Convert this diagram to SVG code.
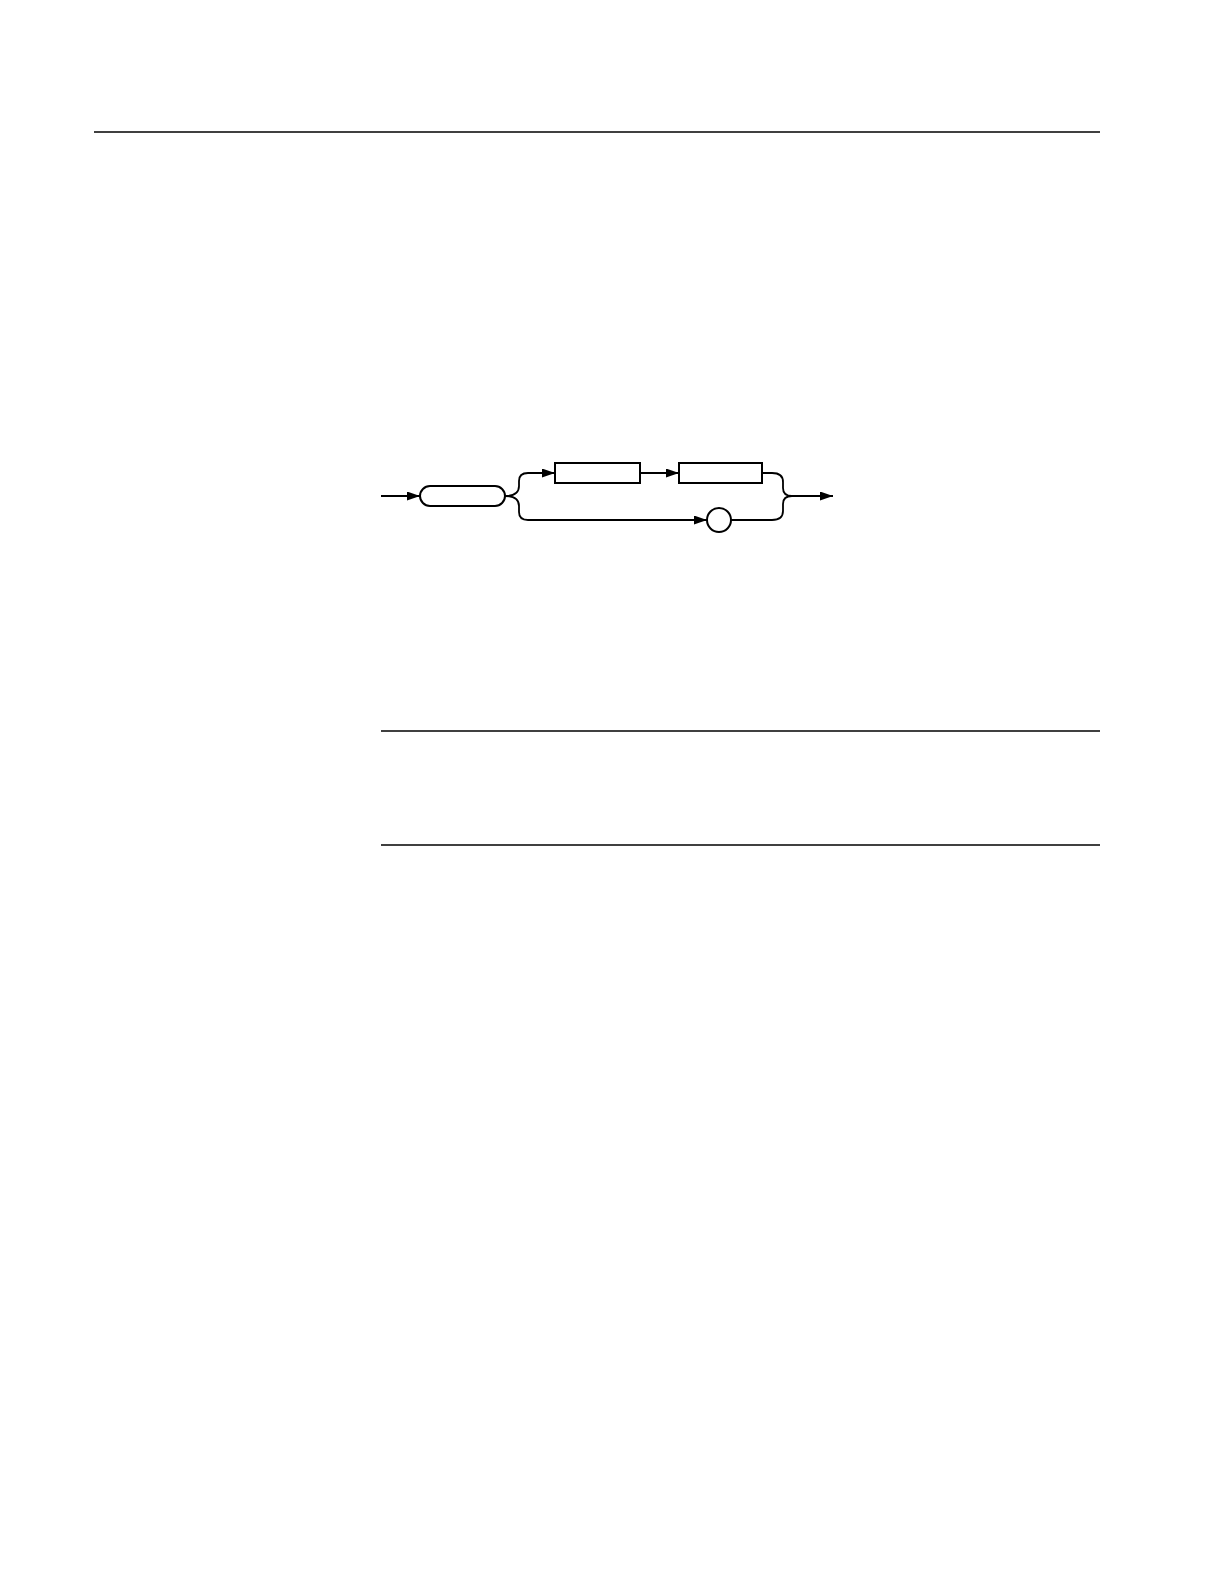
<svg xmlns="http://www.w3.org/2000/svg" width="1224" height="1584" viewBox="0 0 1224 1584">
<style>
.rule{stroke:#000;stroke-width:1.5;fill:none}
.edge{stroke:#000;stroke-width:1.8;fill:none}
.node{stroke:#000;stroke-width:2;fill:#fff}
</style>
<defs>
<marker id="arr" markerUnits="userSpaceOnUse" markerWidth="13" markerHeight="9" refX="13" refY="4.5" orient="auto">
<path d="M0,0 L13,4.5 L0,9 z" fill="#000"/>
</marker>
</defs>
<rect width="1224" height="1584" fill="#fff"/>
<g id="rules">
<line class="rule" x1="94" y1="132" x2="1100" y2="132"/>
<line class="rule" x1="381" y1="731" x2="1100" y2="731"/>
<line class="rule" x1="381" y1="845" x2="1100" y2="845"/>
</g>
<g id="connectors">
<path class="edge" d="M381,496 L420,496" marker-end="url(#arr)"/>
<path class="edge" d="M505,496 C513,496 519,494 519,486 L519,481 C519,476 522,473 528,473 L555,473" marker-end="url(#arr)"/>
<path class="edge" d="M505,496 C513,496 519,498 519,506 L519,512 C519,517 522,520 528,520 L707,520" marker-end="url(#arr)"/>
<path class="edge" d="M640,473 L679,473" marker-end="url(#arr)"/>
<path class="edge" d="M762,473 L772,473 C779,473 783,476 783,482 L783,488 C783,494 786,496 792,496 L833,496" marker-end="url(#arr)"/>
<path class="edge" d="M731,520 L772,520 C779,520 783,517 783,511 L783,504 C783,498 786,496 792,496"/>
</g>
<g id="node-start"><rect class="node" x="420" y="486" width="85" height="20" rx="10" ry="10"/></g>
<g id="node-box1"><rect class="node" x="555" y="463" width="85" height="20"/></g>
<g id="node-box2"><rect class="node" x="679" y="463" width="83" height="20"/></g>
<g id="node-circle"><circle class="node" cx="719" cy="520" r="12"/></g>
</svg>
